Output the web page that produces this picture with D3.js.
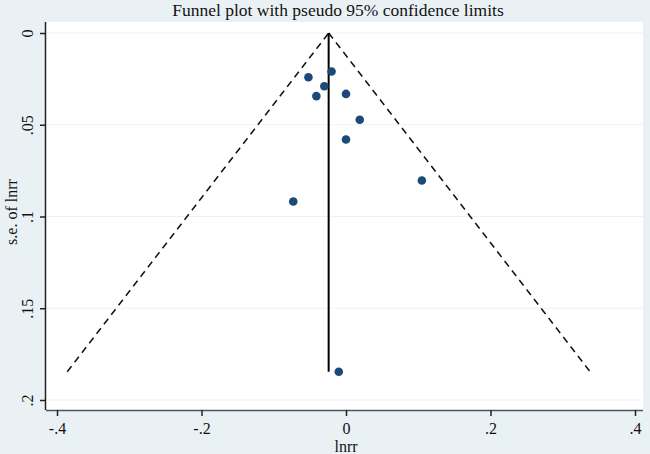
<!DOCTYPE html>
<html>
<head>
    <title>Funnel plot</title>
    <script src="https://d3js.org/d3.v7.min.js"></script>
    <style>
        body { margin: 0; background: #eaf1f5; }
    </style>
</head>
<body>
<script>
    var w = 650;
    var h = 454;

    // study estimates (lnrr) and their standard errors
    var lnrr = [-0.052, -0.020, -0.030, -0.041, 0.000, 0.019, 0.000, -0.073, 0.105, -0.010];
    var se   = [0.0241, 0.0210, 0.0290, 0.0344, 0.0332, 0.0473, 0.0580, 0.0918, 0.0804, 0.1846];
    var pooled = -0.024;
    var xTicks = [-0.4, -0.2, 0, 0.2, 0.4];
    var xTickLabels = ["-.4", "-.2", "0", ".2", ".4"];
    var yTicks = [0, 0.05, 0.1, 0.15, 0.2];
    var yTickLabels = ["0", ".05", ".1", ".15", ".2"];

    var xScale = d3.scaleLinear().domain([-0.4, 0.4]).range([57, 635]);
    var yScale = d3.scaleLinear().domain([0, 0.2]).range([33, 400]);

    var svg = d3.select("body").append("svg")
                .attr("width", w)
                .attr("height", h)
                .style("display", "block");

    var serif = "'Liberation Serif', 'DejaVu Serif', serif";

    // plot region
    svg.append("rect")
       .attr("x", 46).attr("y", 22)
       .attr("width", 597).attr("height", 388)
       .attr("fill", "#ffffff");

    // grid lines
    svg.selectAll("line.grid")
       .data(yTicks)
       .enter().append("line")
       .attr("class", "grid")
       .attr("x1", 46).attr("x2", 643)
       .attr("y1", function(d){ return yScale(d); })
       .attr("y2", function(d){ return yScale(d); })
       .attr("stroke", "#eef1f3")
       .attr("stroke-width", 1.2);

    // pseudo 95% confidence limits
    var seMax = d3.max(se);
    var funnel = [
        [[pooled - 1.96 * seMax, seMax], [pooled, 0]],
        [[pooled, 0], [pooled + 1.96 * seMax, seMax]]
    ];
    var line = d3.line()
                 .x(function(d){ return xScale(d[0]); })
                 .y(function(d){ return yScale(d[1]); });
    svg.selectAll("path.limit")
       .data(funnel)
       .enter().append("path")
       .attr("class", "limit")
       .attr("d", line)
       .attr("fill", "none")
       .attr("stroke", "#111")
       .attr("stroke-width", 1.5)
       .attr("stroke-dasharray", "7,5");

    // pooled estimate
    svg.append("path")
       .attr("d", line([[pooled, 0], [pooled, seMax]]))
       .attr("stroke", "#000")
       .attr("stroke-width", 2);

    // studies
    svg.selectAll("circle")
       .data(lnrr)
       .enter().append("circle")
       .attr("cx", function(d){ return xScale(d); })
       .attr("cy", function(d, i){ return yScale(se[i]); })
       .attr("r", 4.3)
       .attr("fill", "#1a4a78");

    // axes
    var xAxis = d3.axisBottom(xScale)
                  .tickValues(xTicks)
                  .tickFormat(function(d, i){ return xTickLabels[i]; })
                  .tickSize(6).tickSizeOuter(0).tickPadding(7);
    var gx = svg.append("g").attr("transform", "translate(0,410)").call(xAxis);
    gx.select(".domain").attr("d", "M46,0.5H643").attr("stroke", "#555").attr("stroke-width", 1.5);
    gx.selectAll(".tick line").attr("stroke", "#222").attr("stroke-width", 1.5);
    gx.selectAll("text").attr("font-family", serif).attr("font-size", 16).attr("fill", "#111");

    var yAxis = d3.axisLeft(yScale)
                  .tickValues(yTicks)
                  .tickFormat(function(d, i){ return yTickLabels[i]; })
                  .tickSize(6).tickSizeOuter(0).tickPadding(6);
    var gy = svg.append("g").attr("transform", "translate(46,0)").call(yAxis);
    gy.select(".domain").attr("d", "M-0.5,22V410").attr("stroke", "#222").attr("stroke-width", 1.5);
    gy.selectAll(".tick line").attr("stroke", "#222").attr("stroke-width", 1.5);
    gy.selectAll("text")
      .attr("font-family", serif).attr("font-size", 16).attr("fill", "#111")
      .attr("x", null).attr("dy", null)
      .attr("text-anchor", "middle")
      .attr("transform", "translate(-13,0) rotate(-90)");

    // titles
    svg.append("text")
       .attr("x", 338).attr("y", 16)
       .attr("text-anchor", "middle")
       .attr("font-family", serif).attr("font-size", 17.5).attr("fill", "#111")
       .text("Funnel plot with pseudo 95% confidence limits");
    svg.append("text")
       .attr("x", 346).attr("y", 452)
       .attr("text-anchor", "middle")
       .attr("font-family", serif).attr("font-size", 16).attr("fill", "#111")
       .text("lnrr");
    svg.append("text")
       .attr("transform", "translate(17,212) rotate(-90)")
       .attr("text-anchor", "middle")
       .attr("font-family", serif).attr("font-size", 16).attr("fill", "#111")
       .text("s.e. of lnrr");
</script>
</body>
</html>
